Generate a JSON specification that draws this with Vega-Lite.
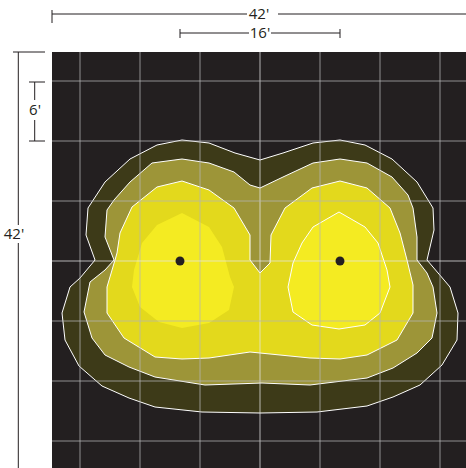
{
  "$schema": "https://vega.github.io/schema/vega-lite/v6.json",
  "width": 414,
  "height": 416,
  "autosize": {"type": "none"},
  "padding": {"left": 52, "top": 52, "right": 0, "bottom": 0},
  "background": "white",
  "view": {"fill": "#231f20", "stroke": null},
  "config": {"axis": {"disable": true}},
  "datasets": {
    "outer": [
      {"i":0,"x":-7.8,"y":12.1},{"i":1,"x":-5.1,"y":11.8},{"i":2,"x":-2.5,"y":10.8},{"i":3,"x":0,"y":10.1},{"i":4,"x":2.3,"y":10.8},{"i":5,"x":5.3,"y":11.8},{"i":6,"x":8.0,"y":12.1},{"i":7,"x":10.5,"y":11.6},{"i":8,"x":13.2,"y":10.2},{"i":9,"x":15.7,"y":7.9},{"i":10,"x":17.3,"y":5.3},{"i":11,"x":17.4,"y":3.1},{"i":12,"x":16.7,"y":0.1},{"i":13,"x":19.0,"y":-2.6},{"i":14,"x":19.8,"y":-5.2},{"i":15,"x":19.7,"y":-7.9},{"i":16,"x":18.2,"y":-10.4},{"i":17,"x":16.0,"y":-12.4},{"i":18,"x":13.3,"y":-13.6},{"i":19,"x":10.7,"y":-14.5},{"i":20,"x":5.7,"y":-15.1},{"i":21,"x":0,"y":-15.2},{"i":22,"x":-5.8,"y":-15.1},{"i":23,"x":-10.5,"y":-14.6},{"i":24,"x":-13.1,"y":-13.7},{"i":25,"x":-15.8,"y":-12.5},{"i":26,"x":-18.1,"y":-10.5},{"i":27,"x":-19.5,"y":-7.9},{"i":28,"x":-19.8,"y":-5.2},{"i":29,"x":-19.0,"y":-2.6},{"i":30,"x":-18.0,"y":-1.7},{"i":31,"x":-16.5,"y":0.1},{"i":32,"x":-17.4,"y":2.6},{"i":33,"x":-17.2,"y":5.3},{"i":34,"x":-15.5,"y":7.9},{"i":35,"x":-13.0,"y":10.2},{"i":36,"x":-10.3,"y":11.6},{"i":37,"x":-7.8,"y":12.1}
    ],
    "l2": [
      {"i":0,"x":-7.8,"y":10.2},{"i":1,"x":-5.1,"y":9.8},{"i":2,"x":-2.6,"y":8.9},{"i":3,"x":-1.0,"y":7.6},{"i":4,"x":0,"y":7.3},{"i":5,"x":2.3,"y":8.4},{"i":6,"x":5.3,"y":9.8},{"i":7,"x":8.0,"y":10.2},{"i":8,"x":10.7,"y":9.8},{"i":9,"x":13.2,"y":8.4},{"i":10,"x":14.8,"y":6.6},{"i":11,"x":15.3,"y":5.3},{"i":12,"x":15.7,"y":2.4},{"i":13,"x":15.7,"y":0.1},{"i":14,"x":16.7,"y":-1.2},{"i":15,"x":17.3,"y":-2.6},{"i":16,"x":17.7,"y":-5.2},{"i":17,"x":17.2,"y":-7.7},{"i":18,"x":15.7,"y":-9.2},{"i":19,"x":13.3,"y":-10.7},{"i":20,"x":10.7,"y":-11.7},{"i":21,"x":5.0,"y":-12.4},{"i":22,"x":0.2,"y":-12.2},{"i":23,"x":-5.5,"y":-12.4},{"i":24,"x":-10.5,"y":-11.6},{"i":25,"x":-13.1,"y":-10.6},{"i":26,"x":-15.5,"y":-9.4},{"i":27,"x":-16.8,"y":-7.7},{"i":28,"x":-17.6,"y":-5.1},{"i":29,"x":-17.0,"y":-2.1},{"i":30,"x":-15.5,"y":-0.9},{"i":31,"x":-14.6,"y":0.1},{"i":32,"x":-15.5,"y":2.4},{"i":33,"x":-15.3,"y":5.1},{"i":34,"x":-14.6,"y":6.1},{"i":35,"x":-13.0,"y":7.9},{"i":36,"x":-10.8,"y":9.8},{"i":37,"x":-7.8,"y":10.2}
    ],
    "l3": [
      {"i":0,"x":-7.8,"y":8.0},{"i":1,"x":-5.1,"y":7.1},{"i":2,"x":-2.6,"y":5.3},{"i":3,"x":-1.0,"y":2.6},{"i":4,"x":-1.0,"y":0.1},{"i":5,"x":0,"y":-1.2},{"i":6,"x":1.0,"y":-0.2},{"i":7,"x":1.1,"y":2.6},{"i":8,"x":2.5,"y":5.3},{"i":9,"x":5.2,"y":7.3},{"i":10,"x":8.0,"y":8.0},{"i":11,"x":10.7,"y":7.3},{"i":12,"x":13.0,"y":5.3},{"i":13,"x":14.0,"y":2.8},{"i":14,"x":14.7,"y":0.1},{"i":15,"x":15.3,"y":-2.4},{"i":16,"x":15.3,"y":-5.2},{"i":17,"x":13.7,"y":-7.9},{"i":18,"x":10.7,"y":-9.4},{"i":19,"x":8.0,"y":-9.8},{"i":20,"x":5.0,"y":-9.7},{"i":21,"x":-1.0,"y":-9.1},{"i":22,"x":-5.1,"y":-9.7},{"i":23,"x":-7.8,"y":-9.8},{"i":24,"x":-10.5,"y":-9.6},{"i":25,"x":-13.6,"y":-7.7},{"i":26,"x":-15.3,"y":-5.2},{"i":27,"x":-15.3,"y":-2.6},{"i":28,"x":-14.5,"y":0.1},{"i":29,"x":-14.3,"y":0.8},{"i":30,"x":-14.0,"y":2.8},{"i":31,"x":-12.8,"y":5.4},{"i":32,"x":-10.3,"y":7.4},{"i":33,"x":-7.8,"y":8.0}
    ],
    "l4a": [
      {"i":0,"x":-7.8,"y":4.8},{"i":1,"x":-5.1,"y":3.4},{"i":2,"x":-3.8,"y":1.4},{"i":3,"x":-3.0,"y":-1.6},{"i":4,"x":-2.6,"y":-2.6},{"i":5,"x":-3.1,"y":-4.9},{"i":6,"x":-5.1,"y":-6.2},{"i":7,"x":-7.8,"y":-6.7},{"i":8,"x":-10.1,"y":-6.1},{"i":9,"x":-12.0,"y":-4.6},{"i":10,"x":-12.8,"y":-2.6},{"i":11,"x":-12.6,"y":-0.9},{"i":12,"x":-11.8,"y":1.8},{"i":13,"x":-10.3,"y":3.6},{"i":14,"x":-7.8,"y":4.8}
    ],
    "l4b": [
      {"i":0,"x":7.9,"y":4.9},{"i":1,"x":10.5,"y":3.4},{"i":2,"x":11.8,"y":1.8},{"i":3,"x":12.7,"y":-0.9},{"i":4,"x":13.0,"y":-2.6},{"i":5,"x":12.0,"y":-5.2},{"i":6,"x":10.5,"y":-6.4},{"i":7,"x":7.9,"y":-6.8},{"i":8,"x":5.2,"y":-6.4},{"i":9,"x":3.3,"y":-5.1},{"i":10,"x":2.8,"y":-2.6},{"i":11,"x":3.3,"y":-0.2},{"i":12,"x":4.2,"y":1.8},{"i":13,"x":5.3,"y":3.4},{"i":14,"x":7.9,"y":4.9}
    ],
    "vgrid": [{"x":-18,"c":0},{"x":-12,"c":0},{"x":-6,"c":0},{"x":0,"c":1},{"x":6,"c":0},{"x":12,"c":0},{"x":18,"c":0}],
    "hgrid": [{"y":18,"c":0},{"y":12,"c":0},{"y":6,"c":0},{"y":0,"c":1},{"y":-6,"c":0},{"y":-12,"c":0},{"y":-18,"c":0}],
    "lamps": [{"x":-8,"y":0},{"x":8,"y":0}],
    "dims": [
      {"x":-20.8,"y":24.7,"x2":-1.3,"y2":24.7},
      {"x":1.8,"y":24.7,"x2":22,"y2":24.7},
      {"x":-20.8,"y":25.1,"x2":-20.8,"y2":23.8},
      {"x":-8,"y":22.8,"x2":-1.1,"y2":22.8},
      {"x":1.1,"y":22.8,"x2":8,"y2":22.8},
      {"x":-8,"y":23.2,"x2":-8,"y2":22.3},
      {"x":8,"y":23.2,"x2":8,"y2":22.3},
      {"x":-24.7,"y":20.9,"x2":-21.5,"y2":20.9},
      {"x":-24.17,"y":20.9,"x2":-24.17,"y2":3.6},
      {"x":-24.17,"y":1.8,"x2":-24.17,"y2":-22},
      {"x":-23.1,"y":17.9,"x2":-21.5,"y2":17.9},
      {"x":-23.1,"y":12.0,"x2":-21.5,"y2":12.0},
      {"x":-22.53,"y":17.9,"x2":-22.53,"y2":16.1},
      {"x":-22.53,"y":14.1,"x2":-22.53,"y2":12.0}
    ],
    "labels": [
      {"t":"42'","x":-0.1,"y":24.7},
      {"t":"16'","x":0,"y":22.8},
      {"t":"42'","x":-24.6,"y":2.7},
      {"t":"6'","x":-22.5,"y":15.1}
    ]
  },
  "encoding": {
    "x": {"field": "x", "type": "quantitative", "scale": {"domain": [-20.8, 20.6], "nice": false, "zero": false}, "axis": null},
    "y": {"field": "y", "type": "quantitative", "scale": {"domain": [-20.7, 20.9], "nice": false, "zero": false}, "axis": null}
  },
  "layer": [
    {"data": {"name": "outer"}, "mark": {"type": "line", "fill": "#3d3a18", "stroke": "#ffffff", "strokeWidth": 1}, "encoding": {"order": {"field": "i", "type": "quantitative"}}},
    {"data": {"name": "l2"}, "mark": {"type": "line", "fill": "#9d9538", "stroke": "#ffffff", "strokeWidth": 1}, "encoding": {"order": {"field": "i", "type": "quantitative"}}},
    {"data": {"name": "l3"}, "mark": {"type": "line", "fill": "#e3d91c", "stroke": "#ffffff", "strokeWidth": 1}, "encoding": {"order": {"field": "i", "type": "quantitative"}}},
    {"data": {"name": "l4a"}, "mark": {"type": "line", "fill": "#f4eb22", "stroke": null, "strokeWidth": 0}, "encoding": {"order": {"field": "i", "type": "quantitative"}}},
    {"data": {"name": "l4b"}, "mark": {"type": "line", "fill": "#f4eb22", "stroke": "#ffffff", "strokeWidth": 1}, "encoding": {"order": {"field": "i", "type": "quantitative"}}},
    {"data": {"name": "vgrid"}, "mark": {"type": "rule", "strokeWidth": 1}, "encoding": {"y": null, "color": {"field": "c", "type": "nominal", "scale": {"domain": [0, 1], "range": ["#b4b4b4", "#e6e6e6"]}, "legend": null}, "opacity": {"value": 0.75}}},
    {"data": {"name": "hgrid"}, "mark": {"type": "rule", "strokeWidth": 1}, "encoding": {"x": null, "color": {"field": "c", "type": "nominal", "scale": {"domain": [0, 1], "range": ["#b4b4b4", "#e6e6e6"]}, "legend": null}, "opacity": {"value": 0.75}}},
    {"data": {"name": "lamps"}, "mark": {"type": "point", "filled": true, "color": "#231f20", "size": 80, "opacity": 1}},
    {"data": {"name": "dims"}, "mark": {"type": "rule", "color": "#231f20", "strokeWidth": 1, "clip": false}, "encoding": {"x2": {"field": "x2"}, "y2": {"field": "y2"}}},
    {"data": {"name": "labels"}, "mark": {"type": "text", "font": "Open Sans", "fontSize": 15, "color": "#231f20", "align": "center", "baseline": "middle", "clip": false}, "encoding": {"text": {"field": "t"}}}
  ]
}
